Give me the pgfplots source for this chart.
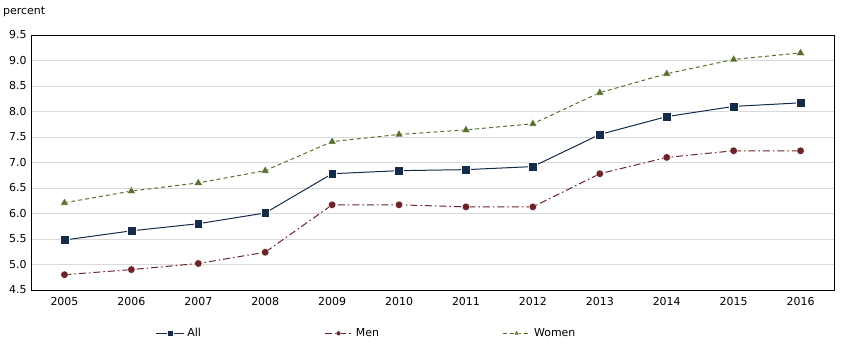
\documentclass[border=0pt]{standalone}
\usepackage{fontspec}
\setmainfont{DejaVu Sans}
\usepackage{pgfplots}
\pgfplotsset{compat=1.18}
\definecolor{cAll}{HTML}{142B4A}
\definecolor{cMen}{HTML}{6B2427}
\definecolor{cWomen}{HTML}{5A7030}
\definecolor{gridc}{HTML}{D9D9D9}
\begin{document}
\begin{tikzpicture}
\begin{axis}[
  scale only axis,
  width=803bp, height=255bp,
  xmin=-0.5, xmax=11.5,
  ymin=4.5, ymax=9.5,
  xtick={0,...,11},
  xticklabels={2005,2006,2007,2008,2009,2010,2011,2012,2013,2014,2015,2016},
  major x tick style={draw=none},
  extra x ticks={0.5,1.5,...,10.5},
  extra x tick labels={},
  extra x tick style={major tick length=5bp, tick align=inside, tick style={black, line width=0.6pt}, xtick pos=lower, grid=none},
  xtick pos=lower,
  ytick={4.5,5,...,9.5},
  yticklabel style={/pgf/number format/fixed, /pgf/number format/fixed zerofill, /pgf/number format/precision=1, xshift=-1bp},
  ytick pos=left,
  major y tick style={draw=none},
  ymajorgrids,
  grid style={gridc, line width=0.8pt},
  axis line style={black, line width=0.8pt},
  tick label style={font=\fontsize{11}{13}\selectfont},
  /pgf/number format/assume math mode=true,
  xticklabel style={yshift=-4bp},
  clip=false,
  legend columns=3,
  legend style={draw=none, fill=none, at={(axis description cs:0.151,-0.17)}, anchor=west,
    font=\fontsize{11}{13}\selectfont,
    /tikz/every even column/.append style={column sep=121bp},
    /tikz/every odd column/.append style={column sep=1bp}},
  legend image code/.code={\draw[mark repeat=2,mark phase=2, every mark/.append style={scale=0.65}] plot coordinates {(0bp,0bp)(14bp,0bp)(28bp,0bp)};},
]
\addplot[cAll, line width=1pt, mark=square*, mark size=4.4bp, mark options={solid, fill=cAll, draw=white, line width=0.4pt}]
 coordinates {(0,5.48)(1,5.66)(2,5.80)(3,6.01)(4,6.78)(5,6.84)(6,6.86)(7,6.92)(8,7.55)(9,7.90)(10,8.10)(11,8.17)};
\addlegendentry{All}
\addplot[cMen, line width=1pt, dash pattern=on 7bp off 3bp on 1.5bp off 3bp, mark=*, mark size=3.8bp, mark options={solid, fill=cMen, draw=white, line width=0.4pt}]
 coordinates {(0,4.80)(1,4.90)(2,5.02)(3,5.24)(4,6.17)(5,6.17)(6,6.13)(7,6.13)(8,6.78)(9,7.10)(10,7.23)(11,7.23)};
\addlegendentry{Men}
\addplot[cWomen, line width=1pt, dash pattern=on 4bp off 3bp, mark=triangle*, mark size=4.8bp, mark options={solid, fill=cWomen, draw=white, line width=0.4pt}]
 coordinates {(0,6.21)(1,6.44)(2,6.60)(3,6.84)(4,7.41)(5,7.55)(6,7.64)(7,7.76)(8,8.37)(9,8.74)(10,9.02)(11,9.15)};
\addlegendentry{Women}
\node[anchor=base west, font=\fontsize{11}{13}\selectfont, inner sep=0pt] at ([xshift=-28bp,yshift=21bp]rel axis cs:0,1) {percent};
\end{axis}
\pgfresetboundingbox
\path (-31bp,-53bp) rectangle (813bp,290bp);
\end{tikzpicture}
\end{document}
